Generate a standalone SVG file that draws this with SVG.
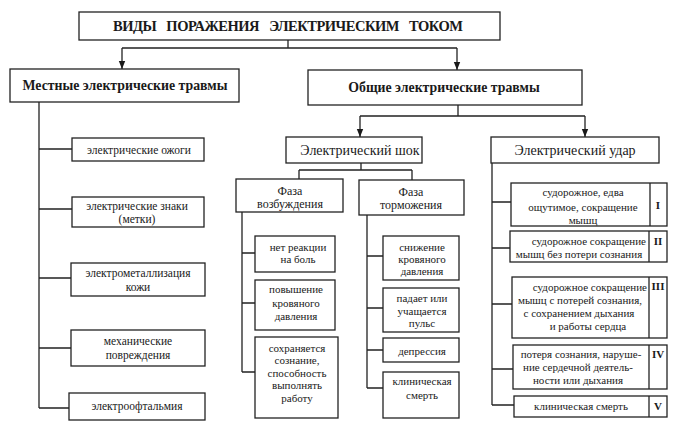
<svg xmlns="http://www.w3.org/2000/svg" width="680" height="431" viewBox="0 0 680 431">
<defs>
<marker id="arr" viewBox="0 0 8 8" refX="8" refY="4" markerWidth="8" markerHeight="8" markerUnits="userSpaceOnUse" orient="auto">
<path d="M0,0.8 L8,4 L0,7.2 Z" fill="#1a1a1a"/>
</marker>
<style>
rect{fill:#fff;stroke:#222;stroke-width:1.3}
line,.c path{stroke:#222;stroke-width:1.3;fill:none}
text{font-family:"Liberation Serif","DejaVu Serif",serif;fill:#1a1a1a;text-anchor:middle}
.t{font-size:14.5px;font-weight:bold;word-spacing:7px}
.h{font-size:13.8px;font-weight:bold}
.m{font-size:14px}
.s{font-size:11px}
.f{font-size:12px}
.l{font-size:11.5px}
.r{font-size:11px;font-weight:bold}
.e{text-anchor:end}
</style>
</defs>
<rect x="0" y="0" width="680" height="431" style="fill:#fff;stroke:none"/>

<g id="connectors" class="c">
<path d="M288,40 V48 M122,48 H457"/>
<path d="M122,48 V69" marker-end="url(#arr)"/>
<path d="M457,48 V70" marker-end="url(#arr)"/>
<path d="M458,105 V116 M360,116 H585"/>
<path d="M360,116 V137" marker-end="url(#arr)"/>
<path d="M585,116 V137" marker-end="url(#arr)"/>
<path d="M361,163 V170 M299,170 H412 M299,170 V179 M412,170 V180"/>
<path d="M39,102 V408 M39,149 H72 M39,209 H72 M39,278 H71 M39,348 H71 M39,408 H69"/>
<path d="M242,212 V372 M242,253 H255 M242,303 H255 M242,372 H255"/>
<path d="M367,215 V388 M367,256 H383 M367,308 H383 M367,350 H383 M367,388 H383"/>
<path d="M492,163 V405 M492,202 H511 M492,248 H510 M492,304 H512 M492,369 H513 M492,405 H514"/>
</g>

<g id="root"><rect x="79" y="12" width="421" height="28"/><text class="t" x="288" y="31" textLength="350" lengthAdjust="spacing">ВИДЫ ПОРАЖЕНИЯ ЭЛЕКТРИЧЕСКИМ ТОКОМ</text></g>
<g id="local"><rect x="10" y="69" width="229" height="33"/><text class="h" x="125" y="90">Местные электрические травмы</text></g>
<g id="general"><rect x="308" y="70" width="274" height="35"/><text class="h" x="444" y="92">Общие электрические травмы</text></g>

<g id="l1"><rect x="72" y="138" width="132" height="23"/><text class="l" x="139" y="154">электрические ожоги</text></g>
<g id="l2"><rect x="72" y="197" width="132" height="30"/><text class="l" x="137" y="210">электрические знаки</text><text class="l" x="137" y="223">(метки)</text></g>
<g id="l3"><rect x="71" y="263" width="134" height="33"/><text class="l" x="138" y="277">электрометаллизация</text><text class="l" x="138" y="291">кожи</text></g>
<g id="l4"><rect x="71" y="330" width="134" height="36"/><text class="l" x="138" y="345">механические</text><text class="l" x="138" y="359">повреждения</text></g>
<g id="l5"><rect x="69" y="393" width="136" height="27"/><text class="l" x="137" y="410">электроофтальмия</text></g>

<g id="shock"><rect x="286" y="137" width="136" height="26"/><text class="m" x="360" y="155">Электрический шок</text></g>
<g id="strike"><rect x="491" y="137" width="168" height="26"/><text class="m" x="575" y="155">Электрический удар</text></g>

<g id="phase1"><rect x="236" y="179" width="107" height="33"/><text class="f" x="290" y="195">Фаза</text><text class="f" x="290" y="208">возбуждения</text></g>
<g id="phase2"><rect x="359" y="180" width="105" height="35"/><text class="f" x="411" y="196">Фаза</text><text class="f" x="411" y="209">торможения</text></g>

<g id="p1a"><rect x="255" y="236" width="80" height="36"/><text class="s" x="298" y="251">нет реакции</text><text class="s" x="298" y="263">на боль</text></g>
<g id="p1b"><rect x="255" y="280" width="80" height="50"/><text class="s" x="296" y="293">повышение</text><text class="s" x="296" y="307">кровяного</text><text class="s" x="296" y="320">давления</text></g>
<g id="p1c"><rect x="255" y="337" width="83" height="81"/><text class="s" x="297" y="352">сохраняется</text><text class="s" x="297" y="364">сознание,</text><text class="s" x="297" y="377">способность</text><text class="s" x="297" y="389">выполнять</text><text class="s" x="297" y="402">работу</text></g>

<g id="p2a"><rect x="383" y="236" width="76" height="44"/><text class="s" x="422" y="251">снижение</text><text class="s" x="422" y="263">кровяного</text><text class="s" x="422" y="275">давления</text></g>
<g id="p2b"><rect x="383" y="288" width="76" height="44"/><text class="s" x="422" y="302">падает или</text><text class="s" x="422" y="315">учащается</text><text class="s" x="422" y="327">пульс</text></g>
<g id="p2c"><rect x="383" y="338" width="76" height="24"/><text class="s" x="422" y="355">депрессия</text></g>
<g id="p2d"><rect x="383" y="372" width="76" height="46"/><text class="s" x="422" y="385">клиническая</text><text class="s" x="422" y="399">смерть</text></g>

<g id="u1"><rect x="511" y="183" width="156" height="43"/><line x1="650" y1="183" x2="650" y2="226"/><text class="s" x="583" y="196">судорожное, едва</text><text class="s" x="583" y="211">ощутимое, сокращение</text><text class="s" x="583" y="224">мышц</text><text class="r" x="658" y="209">I</text></g>
<g id="u2"><rect x="510" y="231" width="157" height="31"/><line x1="649" y1="231" x2="649" y2="262"/><text class="s e" x="646" y="245">судорожное  сокращение</text><text class="s" x="579" y="258">мышц без потери сознания</text><text class="r" x="658" y="245">II</text></g>
<g id="u3"><rect x="512" y="277" width="155" height="61"/><line x1="649" y1="277" x2="649" y2="338"/><text class="s e" x="647" y="291">судорожное  сокращение</text><text class="s" x="580" y="304">мышц с потерей сознания,</text><text class="s" x="579" y="317">с сохранением дыхания</text><text class="s" x="588" y="330">и работы сердца</text><text class="r" x="658" y="290">III</text></g>
<g id="u4"><rect x="513" y="345" width="154" height="44"/><line x1="649" y1="345" x2="649" y2="389"/><text class="s" x="581" y="358">потеря сознания, наруше-</text><text class="s" x="578" y="371">ние сердечной деятель-</text><text class="s" x="578" y="384">ности или дыхания</text><text class="r" x="658" y="358">IV</text></g>
<g id="u5"><rect x="514" y="396" width="153" height="21"/><line x1="649" y1="396" x2="649" y2="417"/><text class="s" x="581" y="410">клиническая смерть</text><text class="r" x="658" y="410">V</text></g>
</svg>
